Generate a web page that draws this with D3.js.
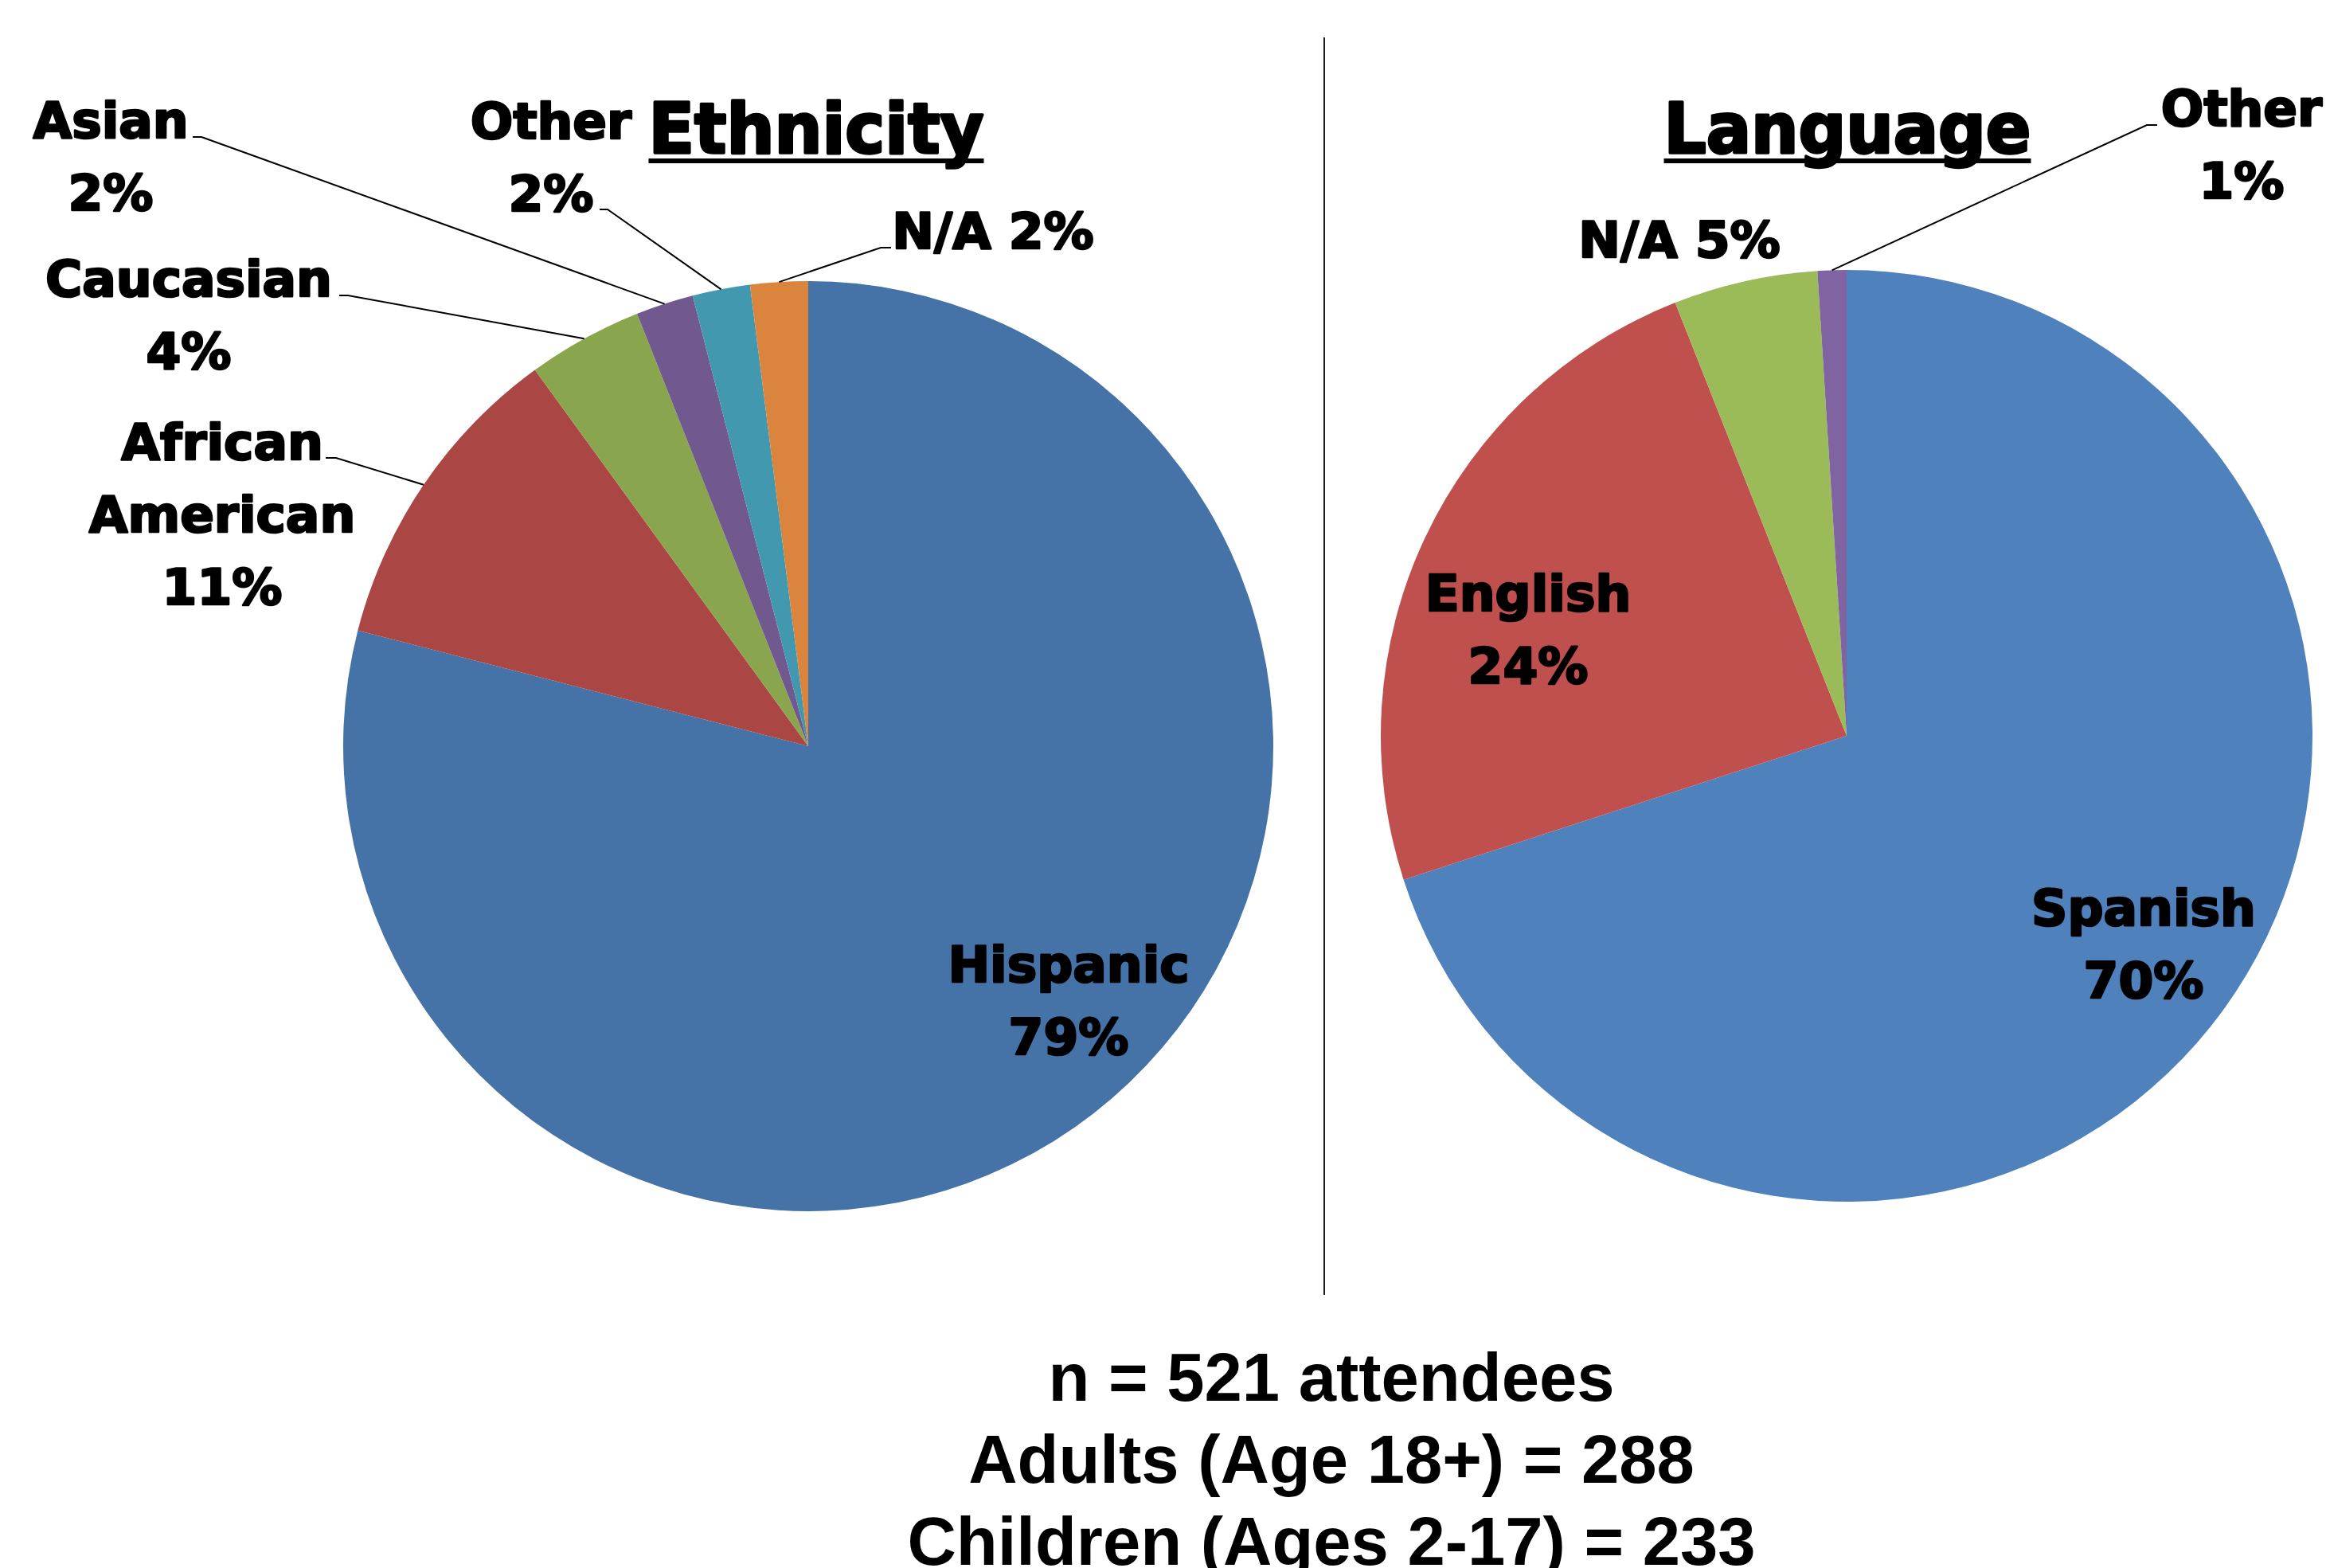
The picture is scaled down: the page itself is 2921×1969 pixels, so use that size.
<!DOCTYPE html>
<html>
<head>
<meta charset="utf-8">
<script src="https://cdn.jsdelivr.net/npm/d3@7"></script>
<style>
  html, body { margin: 0; padding: 0; background: #ffffff; }
  svg { display: block; }
</style>
</head>
<body>
<script>
// ---- Data ----
const ethnicityCategories = ["Hispanic", "African American", "Caucasian", "Asian", "Other", "N/A"];
const ethnicityValues = [79, 11, 4, 2, 2, 2];

const languageCategories = ["Spanish", "English", "N/A", "Other"];
const languageValues = [70, 24, 5, 1];

const summaryLines = ["n = 521 attendees", "Adults (Age 18+) = 288", "Children (Ages 2-17) = 233"];

// ---- Styles ----
const ethnicityColors = ["#4572A7", "#AA4643", "#89A54E", "#71588F", "#4198AF", "#DB843D"];
const languageColors = ["#4F81BD", "#C0504D", "#9BBB59", "#8064A2"];

const W = 2921, H = 1969;
const labelFont = "'DejaVu Sans', Verdana, sans-serif";
const summaryFont = "'Liberation Sans', Arial, sans-serif";

// Label placement: centre x, first baseline y, whether the name wraps onto
// separate lines, and an optional leader elbow (start point + elbow point).
const charts = [
  {
    title: "Ethnicity", titleX: 1025, titleY: 192, titleW: 421,
    cx: 1015, cy: 937, r: 584,
    categories: ethnicityCategories, values: ethnicityValues, colors: ethnicityColors,
    labels: [
      { x: 1342, y: 1233, wrap: true },
      { x: 279, y: 577, wrap: true, leader: [409, 575, 422, 575] },
      { x: 237, y: 372, wrap: true, leader: [426, 371, 437, 371] },
      { x: 139, y: 173, wrap: true, leader: [242, 172, 253, 172] },
      { x: 692, y: 174, wrap: true, leader: [753, 263, 763, 263] },
      { x: 1247, y: 312, wrap: false, leader: [1119, 311, 1106, 311] }
    ]
  },
  {
    title: "Language", titleX: 2320, titleY: 192, titleW: 461,
    cx: 2319, cy: 924, r: 585,
    categories: languageCategories, values: languageValues, colors: languageColors,
    labels: [
      { x: 2692, y: 1162, wrap: true },
      { x: 1919, y: 767, wrap: true },
      { x: 2109, y: 323, wrap: false },
      { x: 2815, y: 158, wrap: true, leader: [2709, 157, 2696, 157] }
    ]
  }
];

const lineStep = 91;

const svg = d3.select("body").append("svg")
  .attr("width", W).attr("height", H)
  .attr("viewBox", `0 0 ${W} ${H}`);

svg.append("rect").attr("width", W).attr("height", H).attr("fill", "#fff");

// Divider between the two pies
svg.append("line")
  .attr("x1", 1663).attr("x2", 1663)
  .attr("y1", 47).attr("y2", 1626)
  .attr("stroke", "#1a1a1a").attr("stroke-width", 2);

charts.forEach(chart => {
  const pie = d3.pie().sort(null).value(d => d)
    .startAngle(0).endAngle(2 * Math.PI);
  const arcs = pie(chart.values);
  const arc = d3.arc().innerRadius(0).outerRadius(chart.r);

  const g = svg.append("g").attr("transform", `translate(${chart.cx},${chart.cy})`);

  g.selectAll("path.slice")
    .data(arcs)
    .join("path")
    .attr("class", "slice")
    .attr("d", arc)
    .attr("fill", (d, i) => chart.colors[i]);

  // Leader lines from the label to the slice's outer edge
  const edge = d => {
    const a = (d.startAngle + d.endAngle) / 2;
    return [chart.cx + chart.r * Math.sin(a), chart.cy - chart.r * Math.cos(a)];
  };
  arcs.forEach((d, i) => {
    const lab = chart.labels[i];
    if (!lab.leader) return;
    const [ex, ey] = edge(d);
    const pts = [[lab.leader[0], lab.leader[1]], [lab.leader[2], lab.leader[3]], [ex, ey]];
    svg.append("path")
      .attr("d", d3.line()(pts))
      .attr("fill", "none")
      .attr("stroke", "#000")
      .attr("stroke-width", 2);
  });

  // Data labels
  arcs.forEach((d, i) => {
    const lab = chart.labels[i];
    const name = chart.categories[i];
    const pct = d3.format(".0f")(chart.values[i]) + "%";
    const lines = lab.wrap ? [...name.split(" "), pct] : [name + " " + pct];
    const t = svg.append("text")
      .attr("x", lab.x).attr("y", lab.y)
      .attr("text-anchor", "middle")
      .attr("font-family", labelFont)
      .attr("font-weight", "bold")
      .attr("font-size", 63)
      .attr("fill", "#000")
      .attr("stroke", "#000")
      .attr("stroke-width", 2.6)
      .attr("stroke-linejoin", "round");
    lines.forEach((ln, k) => {
      t.append("tspan")
        .attr("x", lab.x)
        .attr("y", lab.y + k * lineStep)
        .text(ln);
    });
  });

  // Title with underline
  svg.append("text")
    .attr("x", chart.titleX).attr("y", chart.titleY)
    .attr("text-anchor", "middle")
    .attr("font-family", labelFont)
    .attr("font-weight", "bold")
    .attr("font-size", 87)
    .attr("textLength", chart.titleW)
    .attr("lengthAdjust", "spacingAndGlyphs")
    .attr("fill", "#000")
    .attr("stroke", "#000")
    .attr("stroke-width", 3.5)
    .attr("stroke-linejoin", "round")
    .text(chart.title);
  svg.append("rect")
    .attr("x", chart.titleX - chart.titleW / 2)
    .attr("y", chart.titleY + 7)
    .attr("width", chart.titleW)
    .attr("height", 6)
    .attr("fill", "#000");
});

// Summary block under the pies
svg.append("g")
  .selectAll("text")
  .data(summaryLines)
  .join("text")
  .attr("x", 1672)
  .attr("y", (d, i) => 1759 + i * 103)
  .attr("text-anchor", "middle")
  .attr("font-family", summaryFont)
  .attr("font-weight", "bold")
  .attr("font-size", 85)
  .attr("fill", "#000")
  .text(d => d);
</script>
</body>
</html>
